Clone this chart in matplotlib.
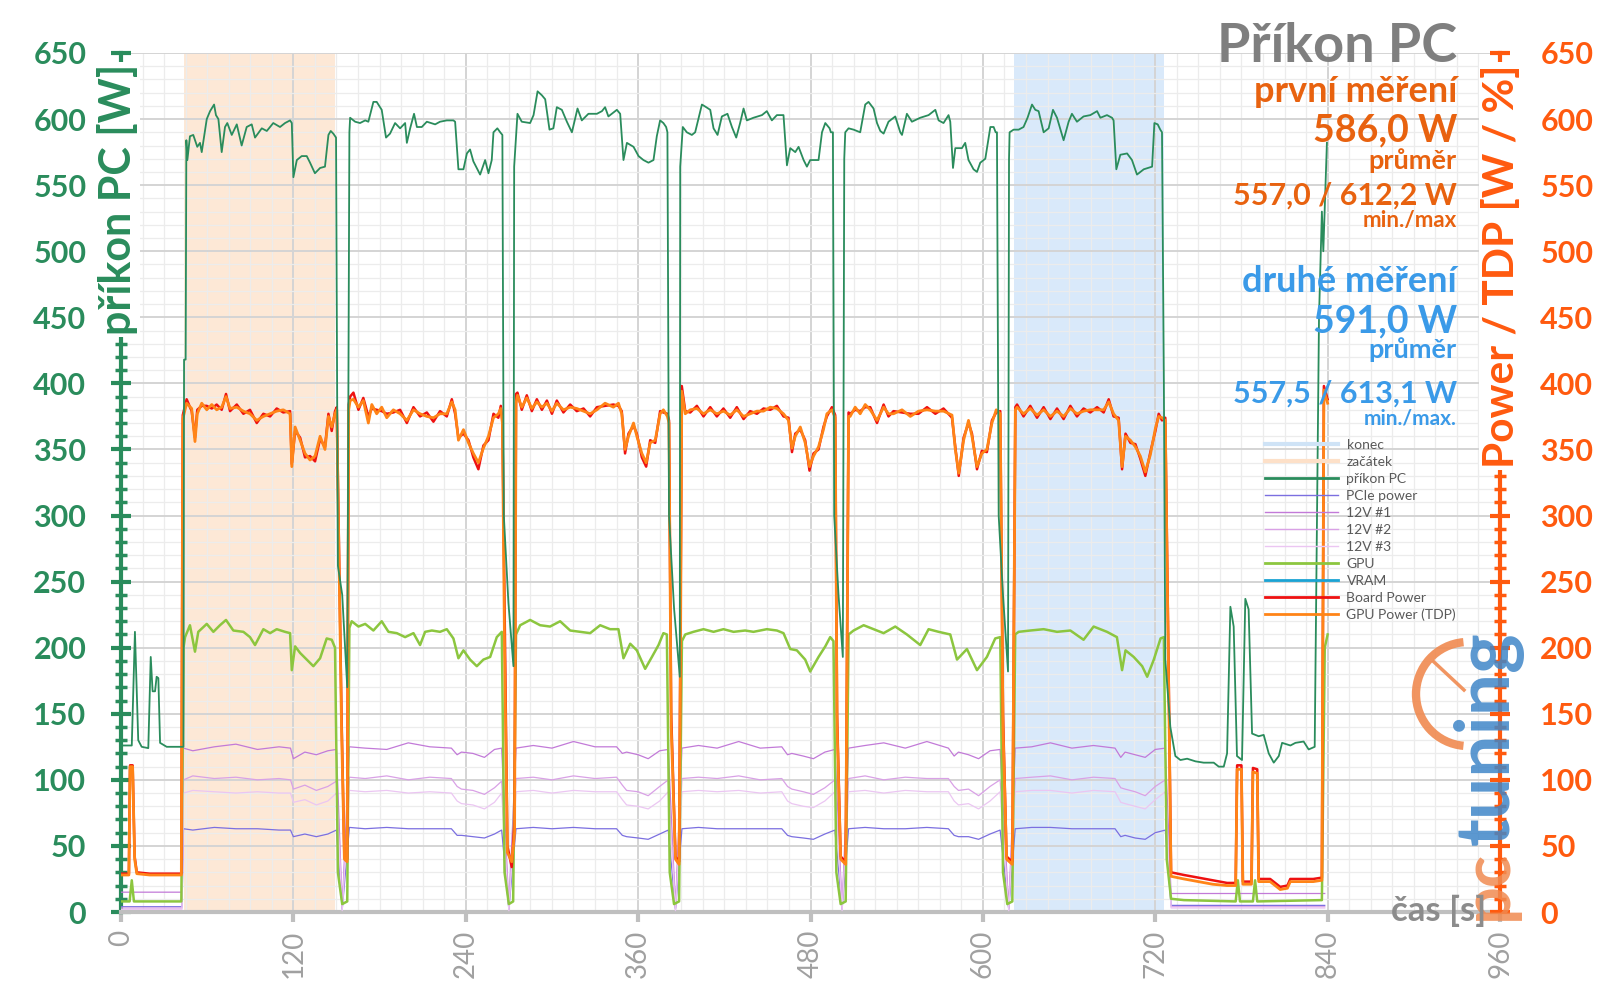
import numpy as np
import matplotlib
matplotlib.use("Agg")
import matplotlib.pyplot as plt
import matplotlib.ticker as ticker
from matplotlib.lines import Line2D
from matplotlib.patches import Arc

plt.rcParams['font.family'] = ['Lato', 'DejaVu Sans']

# ---- data ----
# příkon PC  (time s, W)
pc_power = [
    (0, 126), (7.5, 126), (9.7, 212), (12, 130), (14.4, 125), (19, 124), (20.7, 193), (22, 167),
    (23.7, 167), (24.8, 178), (26, 177), (27.2, 128), (31.8, 125), (41.1, 125), (43.5, 125),
    (43.9, 418), (45, 418), (45.5, 584),
    (46.2, 569), (48, 587), (50.3, 588), (53.1, 579), (55, 582), (56.2, 575), (59.7, 600), (62, 606),
    (64.8, 611), (66.1, 603), (67.8, 600), (70.1, 575), (72.4, 594), (74, 597), (77.1, 588), (80.6, 596),
    (84, 580), (87.5, 594), (91, 596), (93.3, 586), (98, 593), (101.5, 591), (106, 597), (110.7, 594),
    (114.2, 597), (117.7, 599), (118.9, 597), (120, 556), (122.4, 569), (125.8, 572), (129.3, 572),
    (131.6, 567), (135, 559), (138.6, 563), (142, 564), (144.4, 588), (146, 591), (147.8, 589), (149.7, 586),
    (151, 262), (154, 240), (157.5, 170), (159, 590),
    (159.5, 601), (163, 598), (166.4, 597), (170, 599), (172.2, 598), (175.7, 613), (178, 613),
    (181.5, 607), (184.5, 586), (187.3, 589), (190.8, 597), (194.3, 593), (197.8, 597), (199, 582),
    (201.3, 593), (204, 604), (206, 594), (209.4, 594), (212.9, 598), (218.7, 596), (222.1, 598),
    (226.8, 599), (231.4, 599), (232.6, 598), (234.9, 562), (238.4, 562), (240.8, 574), (243, 577),
    (245.3, 568), (250, 558), (253.5, 569), (255.8, 559), (258.1, 569), (259.3, 590), (262, 593),
    (264, 590), (265.5, 588),
    (266.5, 300), (269.7, 234), (273.2, 186), (273.7, 564),
    (276, 604), (279, 598), (284.8, 597), (287.2, 603), (290, 621), (293, 618), (295.3, 615),
    (298.3, 592), (301, 593), (303.4, 609), (306.9, 607), (310.4, 598), (313.9, 590), (317.8, 608),
    (320.8, 599), (325.4, 604), (331.3, 604), (334.8, 606), (337, 609), (339.3, 602), (345.2, 607),
    (347.5, 604), (349.8, 569), (352.2, 582), (356.8, 579), (360.3, 572), (363.7, 569), (367.2, 567),
    (370.7, 569), (373, 587), (375.3, 599), (377.6, 597), (379.5, 594),
    (380.4, 590), (381.5, 300), (385, 230), (389, 178), (389.3, 564),
    (391.1, 594), (393.9, 590), (397.4, 588), (399.7, 590), (404.4, 611), (407.4, 609), (410.2, 607),
    (412.5, 593), (415.3, 588), (418.3, 602), (422.2, 604), (425.3, 594), (428.3, 586), (431, 597),
    (433.4, 608), (435.7, 599), (440.3, 601), (446.2, 603), (449.6, 606), (453.1, 599), (456.6, 603),
    (461.2, 603), (463.6, 565), (465.9, 578), (469.4, 575), (471.7, 579), (475.2, 569), (477.5, 564),
    (479.8, 569), (485.6, 569), (488, 590), (490.3, 597), (493.3, 593), (494.2, 590),
    (495.6, 590), (496.5, 300), (499.5, 240), (502.5, 193), (503.5, 570),
    (504.2, 590), (506.5, 593), (510, 592), (514.6, 590), (518.1, 611), (520.4, 613), (523.9, 608),
    (526.3, 597), (528.6, 591), (530.9, 589), (534.3, 598), (539, 602), (542.5, 590), (543.7, 588),
    (547.1, 604), (550.6, 598), (556.4, 601), (562.2, 603), (566.9, 607), (569.2, 599), (572.6, 597),
    (576.1, 603), (577.3, 598), (579.2, 563), (580.8, 578), (585.4, 578), (587.7, 582), (590, 569),
    (593.5, 562), (595.9, 560), (598.2, 567), (601.7, 570), (605.2, 594), (607.5, 594), (608.9, 590),
    (609.8, 590), (611, 300), (614, 240), (617.5, 182), (618.2, 570),
    (618.6, 590), (621.4, 592), (624.9, 592), (628.3, 594), (631.1, 601), (634.2, 611), (636.5, 607),
    (638.8, 606), (642.3, 590), (645.8, 593), (648.8, 607), (651.6, 601), (656.2, 584), (659.7, 598),
    (662, 604), (665.5, 598), (670.1, 602), (674.8, 603), (679.5, 606), (681.8, 601), (686.4, 603),
    (689.9, 601), (691, 599), (692.9, 562), (695.7, 573), (700.4, 574), (703.8, 569), (707.3, 558),
    (712, 562), (717.8, 564), (719.4, 597), (721.7, 596), (723.5, 592), (724.7, 590),
    (726, 400), (727, 191), (730.5, 140), (734, 118), (737.5, 115), (742.2, 116), (748, 114),
    (753.7, 113), (760.7, 113), (764.2, 110), (767.7, 110), (770, 120), (772.3, 231), (774.6, 216),
    (776.9, 118), (780.4, 115), (782.7, 237), (785, 229), (787.4, 135), (792, 133), (795.5, 134),
    (799, 120), (802.5, 113), (806, 118), (808.3, 128), (814.1, 126), (817.6, 128), (823.3, 129),
    (826.8, 123), (831, 125), (834, 450), (836, 530), (837, 500), (839.5, 582),
]

# GPU Power (TDP)
gpu_tdp = [
    (0, 28), (5.5, 28), (6.3, 110), (8.1, 110), (9.5, 40), (11, 29), (20, 28), (42, 28), (43, 373),
    (45.7, 385), (49.2, 381), (51.5, 356), (53.1, 377), (56.2, 385), (59.7, 380), (63.2, 384), (66.6, 380),
    (70.1, 382), (73.1, 390), (75.9, 381), (80.6, 382), (85.2, 379), (89.8, 377), (94.5, 372), (99.1, 375),
    (103.8, 377), (108.4, 379), (113, 380), (117.7, 377), (118.9, 337), (121.2, 367), (124.7, 357),
    (128.1, 347), (131.6, 342), (135.1, 345), (138.6, 360), (142, 350), (144.4, 375), (146.7, 367),
    (149, 377), (150.2, 380),
    (152, 250), (153.5, 140), (155.5, 40), (157.4, 38), (158.5, 380),
    (159.5, 387), (161.8, 388), (165.3, 382), (168.7, 387), (172.2, 370), (174.6, 384), (178, 377),
    (181.5, 382), (185, 374), (189.6, 380), (194.3, 377), (199, 372), (203.6, 380), (208.2, 377),
    (212.9, 375), (217.5, 374), (222.1, 377), (226.8, 377), (230.3, 386), (232.6, 380), (234.9, 357),
    (238.4, 365), (241.9, 355), (245.3, 347), (248.8, 340), (252.3, 351), (255.8, 360), (259.3, 374),
    (262.7, 377), (264.4, 381), (265.5, 370),
    (267, 200), (269, 45), (272, 38), (274, 60), (275, 385),
    (276, 391), (279, 382), (282.5, 389), (286, 381), (289.5, 386), (293, 382), (296.5, 385), (300, 379),
    (303.4, 385), (308, 380), (312.7, 382), (317.3, 381), (322, 379), (326.6, 377), (331.3, 380),
    (337, 385), (342.8, 382), (346.3, 385), (348.6, 377), (350.9, 350), (353.3, 360), (356.8, 370),
    (359.1, 360), (362.6, 347), (365.6, 340), (368.4, 355), (371.9, 357), (375.3, 377), (377.6, 380),
    (380.4, 375), (381.5, 370),
    (383, 140), (386, 40), (388.5, 36), (389.5, 200), (390.4, 394),
    (392.8, 377), (396.3, 380), (400.9, 381), (405.5, 377), (410.2, 380), (414.8, 377), (419.4, 379),
    (424.1, 376), (428.7, 380), (433.4, 375), (438, 377), (442.7, 379), (447.3, 379), (452, 382),
    (456.6, 381), (461.2, 377), (464.7, 372), (467.1, 351), (469.4, 360), (472.9, 367), (476.3, 355),
    (479.3, 337), (482.1, 345), (485.6, 352), (489, 365), (491.4, 377), (494.9, 380), (497.2, 374),
    (498.5, 140), (501, 40), (504.5, 36), (506.5, 375),
    (507.6, 375), (511.1, 382), (514.6, 377), (518.1, 384), (521.6, 380), (526.3, 372), (530.9, 382),
    (534.3, 377), (537.8, 377), (543.7, 380), (549.5, 375), (555.2, 379), (561.1, 380), (566.9, 379),
    (572.6, 379), (578.5, 376), (580.8, 350), (583.2, 332), (586.6, 357), (590, 372), (592.4, 360),
    (595.9, 337), (599.3, 347), (602.8, 350), (606.3, 370), (609.3, 380), (612.1, 377),
    (614, 140), (616.5, 40), (620.5, 36), (622.6, 380),
    (623.8, 382), (628.3, 377), (633, 381), (637.7, 376), (642.3, 380), (647, 375), (651.6, 379),
    (656.2, 375), (660.9, 381), (665.5, 377), (670.1, 379), (674.8, 380), (679.5, 380), (684.1, 380),
    (687.6, 386), (691, 377), (694.5, 372), (696.9, 337), (699.3, 360), (702.7, 357), (706.2, 352),
    (709.6, 345), (713.1, 333), (716.6, 346), (720.1, 366), (722.4, 375), (724.7, 374), (727, 372),
    (729, 200), (731, 27), (740, 25), (750, 23), (760, 21), (770, 20), (776, 20), (777, 108), (780, 108),
    (781, 21), (787, 21), (788, 106), (791, 105), (792, 23), (800, 23), (807, 17), (812, 18), (814, 23),
    (830, 23), (836, 24), (837.4, 395), (840, 385),
]

# Board Power
board_power = [
    (0, 29), (5.5, 29), (6.3, 111), (8.1, 111), (9.5, 42), (11, 30), (20, 29), (42, 29), (43, 376),
    (45.7, 388), (49.2, 379), (51.5, 359), (53.1, 380), (56.2, 383), (59.7, 383), (63.2, 381), (66.6, 384),
    (70.1, 380), (73.1, 392), (75.9, 379), (80.6, 384), (85.2, 377), (89.8, 380), (94.5, 370), (99.1, 377),
    (103.8, 375), (108.4, 381), (113, 378), (117.7, 379), (118.9, 339), (121.2, 364), (124.7, 359),
    (128.1, 344), (131.6, 345), (135.1, 341), (138.6, 358), (142, 352), (144.4, 377), (146.7, 364),
    (149, 379), (150.2, 382),
    (152, 260), (153.5, 150), (155.5, 42), (157.4, 40), (158.5, 384),
    (159.5, 390), (161.8, 393), (165.3, 380), (168.7, 389), (172.2, 375), (174.6, 381), (178, 380),
    (181.5, 379), (185, 377), (189.6, 378), (194.3, 380), (199, 370), (203.6, 382), (208.2, 375),
    (212.9, 378), (217.5, 371), (222.1, 379), (226.8, 375), (230.3, 388), (232.6, 377), (234.9, 359),
    (238.4, 362), (241.9, 357), (245.3, 344), (248.8, 335), (252.3, 353), (255.8, 357), (259.3, 377),
    (262.7, 374), (264.4, 383), (265.5, 372),
    (267, 231), (269, 50), (272, 34), (274, 70), (275, 392),
    (276, 393), (279, 380), (282.5, 391), (286, 379), (289.5, 388), (293, 380), (296.5, 387), (300, 377),
    (303.4, 387), (308, 378), (312.7, 384), (317.3, 379), (322, 381), (326.6, 375), (331.3, 382),
    (337, 383), (342.8, 384), (346.3, 383), (348.6, 379), (350.9, 347), (353.3, 362), (356.8, 368),
    (359.1, 362), (362.6, 344), (365.6, 337), (368.4, 357), (371.9, 355), (375.3, 379), (377.6, 378),
    (380.4, 377), (381.5, 372),
    (383, 150), (386, 42), (388.5, 38), (389.5, 220), (390.4, 398),
    (392.8, 379), (396.3, 378), (400.9, 383), (405.5, 375), (410.2, 382), (414.8, 375), (419.4, 381),
    (424.1, 374), (428.7, 382), (433.4, 373), (438, 379), (442.7, 377), (447.3, 381), (452, 380),
    (456.6, 383), (461.2, 375), (464.7, 374), (467.1, 348), (469.4, 362), (472.9, 365), (476.3, 357),
    (479.3, 334), (482.1, 347), (485.6, 350), (489, 367), (491.4, 375), (494.9, 382), (497.2, 376),
    (498.5, 150), (501, 42), (504.5, 38), (506.5, 378),
    (507.6, 377), (511.1, 380), (514.6, 379), (518.1, 382), (521.6, 382), (526.3, 370), (530.9, 384),
    (534.3, 375), (537.8, 379), (543.7, 378), (549.5, 377), (555.2, 377), (561.1, 382), (566.9, 377),
    (572.6, 381), (578.5, 374), (580.8, 352), (583.2, 330), (586.6, 359), (590, 370), (592.4, 362),
    (595.9, 335), (599.3, 349), (602.8, 348), (606.3, 372), (609.3, 378), (612.1, 379),
    (614, 150), (616.5, 42), (620.5, 38), (622.6, 382),
    (623.8, 384), (628.3, 375), (633, 383), (637.7, 374), (642.3, 382), (647, 373), (651.6, 381),
    (656.2, 373), (660.9, 383), (665.5, 375), (670.1, 381), (674.8, 378), (679.5, 382), (684.1, 378),
    (687.6, 388), (691, 375), (694.5, 374), (696.9, 335), (699.3, 362), (702.7, 355), (706.2, 354),
    (709.6, 343), (713.1, 330), (716.6, 348), (720.1, 364), (722.4, 377), (724.7, 372), (727, 374),
    (729, 210), (731, 30), (740, 28), (750, 26), (760, 24), (770, 22), (776, 22), (777, 111), (780, 111),
    (781, 23), (787, 23), (788, 109), (791, 108), (792, 25), (800, 25), (807, 19), (812, 20), (814, 25),
    (830, 25), (836, 26), (837.4, 398), (840, 388),
]

# GPU (chip)
gpu_chip = [
    (0, 8), (6, 8), (7.5, 24), (9, 8), (42, 8), (43.5, 200),
    (44.6, 208), (48, 217), (51.5, 197), (53.8, 212), (59.7, 218), (64.3, 212), (68.9, 217), (73.1, 221),
    (78.2, 213), (85.2, 212), (89.8, 208), (93.3, 202), (99.1, 214), (103.8, 211), (108.4, 214),
    (114.2, 212), (117.7, 211), (118.9, 183), (121.2, 201), (124.7, 196), (129.3, 191), (133.9, 186),
    (138.6, 192), (143.2, 207), (146.7, 206), (149, 200),
    (151, 30), (154, 6), (157.5, 8), (159, 215),
    (160.6, 220), (165.3, 216), (170, 218), (175.7, 213), (181.5, 220), (186.2, 212), (192, 211),
    (197.8, 208), (203.6, 211), (208.2, 202), (211.7, 212), (216.4, 213), (222.1, 212), (226.8, 214),
    (231.4, 207), (234.9, 192), (238.4, 198), (243, 191), (247.7, 186), (252.3, 191), (257, 193),
    (261.6, 208), (265.1, 212),
    (267, 30), (270, 6), (273, 8), (275, 210),
    (277.9, 217), (284.8, 221), (291.8, 217), (298.7, 216), (305.7, 220), (312.7, 213), (319.6, 212),
    (326.6, 211), (333.6, 217), (340.5, 214), (346.3, 214), (349.8, 192), (354.5, 203), (359.1, 198),
    (364.9, 184), (369.6, 193), (374.2, 202), (377.6, 211), (380, 210),
    (382, 30), (385, 6), (388.5, 8), (390.5, 205),
    (392.8, 210), (398.5, 212), (405.5, 214), (412.5, 212), (419.4, 214), (426.4, 212), (434.5, 213),
    (440.3, 212), (449.6, 214), (456.6, 213), (461.2, 211), (465.9, 199), (470.5, 198), (476.3, 191),
    (479.8, 182), (485.6, 193), (490.3, 201), (493.7, 208), (496, 205),
    (498, 30), (501, 6), (504.5, 8), (506.5, 210),
    (510, 213), (517, 217), (524, 214), (530.9, 211), (539, 216), (547.1, 210), (556.4, 202),
    (562.2, 214), (569.2, 212), (577.3, 210), (582, 191), (588.9, 199), (595.9, 183), (602.8, 193),
    (608.6, 207), (612.1, 208),
    (614, 30), (617, 6), (620.5, 8), (622.5, 210),
    (624.9, 212), (633, 213), (642.3, 214), (651.6, 212), (660.9, 213), (670.1, 206), (677.1, 216),
    (686.4, 212), (693.3, 208), (696.9, 183), (699.3, 198), (705, 193), (710.9, 186), (714.4, 178),
    (719, 191), (723.7, 207), (726, 208),
    (728, 40), (731, 10), (740, 9), (776, 8), (777.5, 24), (779, 8), (788, 8), (789.5, 24), (791, 8),
    (836, 9), (838, 200), (840, 210),
]

# rails: shared time knots
t_rails = [0, 42.5,
           43.5, 50, 65, 80, 95, 110, 118, 120, 128, 136, 144, 150, 154,
           159, 170, 185, 200, 215, 230, 234, 237, 245, 253, 260, 265, 270,
           275, 287, 300, 315, 330, 345, 349, 352, 360, 367, 375, 381, 386,
           390.5, 402, 415, 430, 445, 460, 464, 467, 475, 482, 490, 497, 502,
           506.5, 518, 531, 546, 561, 576, 580, 583, 590, 597, 605, 612, 618,
           622.5, 634, 647, 662, 677, 692, 696, 699, 706, 713, 720, 727,
           731, 836, 838]
v_12v_1 = [15, 15,
           124, 122, 125, 127, 123, 125, 124, 116, 121, 119, 122, 123, 3,
           125, 124, 123, 128, 125, 124, 119, 121, 120, 117, 123, 124, 3,
           124, 126, 124, 129, 125, 125, 120, 121, 119, 116, 122, 123, 3,
           124, 126, 124, 129, 124, 125, 119, 120, 118, 116, 121, 123, 3,
           124, 126, 128, 124, 129, 124, 118, 121, 119, 116, 122, 123, 3,
           124, 125, 128, 124, 126, 124, 117, 121, 119, 117, 123, 124,
           14, 14, 14]
v_12v_2 = [3, 3,
           100, 103, 101, 102, 100, 101, 100, 93, 96, 92, 95, 99, 2,
           102, 101, 103, 100, 102, 101, 95, 93, 92, 89, 94, 99, 2,
           101, 102, 100, 103, 101, 102, 96, 92, 91, 88, 95, 100, 2,
           101, 102, 101, 103, 100, 101, 95, 93, 91, 89, 94, 100, 2,
           101, 103, 100, 102, 101, 101, 95, 92, 93, 88, 95, 100, 2,
           101, 102, 103, 100, 102, 101, 94, 93, 91, 88, 95, 100,
           4, 4, 4]
v_12v_3 = [2, 2,
           90, 92, 91, 90, 91, 90, 90, 83, 85, 81, 84, 90, 1,
           92, 91, 92, 90, 91, 90, 84, 82, 81, 78, 83, 90, 1,
           91, 92, 90, 92, 91, 91, 85, 81, 80, 78, 84, 91, 1,
           91, 92, 91, 92, 90, 91, 84, 82, 80, 79, 84, 91, 1,
           91, 92, 90, 92, 91, 91, 84, 81, 82, 78, 84, 91, 1,
           91, 92, 92, 90, 92, 91, 83, 82, 80, 78, 85, 91,
           3, 3, 3]
v_pcie = [4, 4,
          63, 62, 64, 63, 63, 62, 62, 57, 59, 57, 59, 62, 2,
          64, 63, 64, 63, 63, 63, 58, 58, 57, 56, 59, 62, 2,
          63, 64, 63, 64, 63, 63, 58, 57, 56, 55, 59, 62, 2,
          63, 64, 63, 63, 63, 63, 58, 57, 56, 55, 59, 62, 2,
          63, 64, 63, 63, 64, 63, 58, 57, 57, 55, 59, 62, 2,
          63, 64, 64, 63, 63, 63, 57, 58, 56, 55, 60, 62,
          5, 5, 5]

start_span = (43.6, 148.8)   # začátek
end_span = (621.9, 725.8)    # konec

x_ticks = [0, 120, 240, 360, 480, 600, 720, 840, 960]
y_ticks = list(range(0, 651, 50))

# ---- colours ----
c_green = '#2a8c5c'
c_right = '#ff5a0f'
c_orange_txt = '#e8620f'
c_blue_txt = '#3a9ae8'
c_grey = '#8c8c8c'

fig = plt.figure(figsize=(16, 10.08), dpi=100)
ax = fig.add_axes([121/1600, 96/1008, 1379/1600, 859/1008])

ax.axvspan(*start_span, color='#fde8d6', lw=0, zorder=0)
ax.axvspan(*end_span, color='#d9e9fa', lw=0, zorder=0)

ax.plot(t_rails, v_pcie, color='#7b6fe0', lw=0.9, zorder=3)
ax.plot(t_rails, v_12v_1, color='#c27ad8', lw=0.9, zorder=3)
ax.plot(t_rails, v_12v_2, color='#d9a1e6', lw=0.9, zorder=3)
ax.plot(t_rails, v_12v_3, color='#ebc6f2', lw=0.9, zorder=3)

g = np.array(gpu_chip)
ax.plot(g[:, 0], g[:, 1], color='#8cc63f', lw=1.8, zorder=4)
ax.plot([], [], color='#1aa3d4', lw=2)  # VRAM (not visible in chart)
b = np.array(board_power)
ax.plot(b[:, 0], b[:, 1], color='#ee1111', lw=1.8, zorder=5)
o = np.array(gpu_tdp)
ax.plot(o[:, 0], o[:, 1], color='#ff8417', lw=2.0, zorder=6)
p = np.array(pc_power)
ax.plot(p[:, 0], p[:, 1], color=c_green, lw=1.3, zorder=7)

ax.set_xlim(0, 960)
ax.set_ylim(0, 650)
ax.xaxis.set_major_locator(ticker.FixedLocator(x_ticks))
ax.xaxis.set_minor_locator(ticker.MultipleLocator(15))
ax.yaxis.set_major_locator(ticker.FixedLocator(y_ticks))
ax.yaxis.set_minor_locator(ticker.MultipleLocator(10))
ax.grid(which='major', color='#d4d4d4', lw=1.4, zorder=1)
ax.grid(which='minor', color='#ececec', lw=0.9, zorder=1)
ax.set_axisbelow(True)

for s in ['top', 'right']:
    ax.spines[s].set_visible(False)
ax.spines['left'].set_color(c_green)
ax.spines['left'].set_linewidth(3)
ax.spines['bottom'].set_color('#bfbfbf')
ax.spines['bottom'].set_linewidth(3)

ax.tick_params(axis='y', which='major', direction='inout', length=14, width=3, colors=c_green,
               labelsize=22, pad=18)
ax.tick_params(axis='y', which='minor', direction='inout', length=8, width=2.5, colors=c_green)
for lab in ax.get_yticklabels():
    lab.set_fontweight('bold')
ax.tick_params(axis='x', which='major', direction='out', length=7, width=3, colors='#bfbfbf',
               labelsize=20, labelcolor='#a0a0a0', labelrotation=90, pad=6)
ax.tick_params(axis='x', which='minor', length=0)

ax2 = ax.twinx()
ax2.set_ylim(0, 650)
ax2.yaxis.set_major_locator(ticker.FixedLocator(y_ticks))
ax2.yaxis.set_minor_locator(ticker.MultipleLocator(10))
for s in ['top', 'left', 'bottom']:
    ax2.spines[s].set_visible(False)
ax2.spines['right'].set_color(c_right)
ax2.spines['right'].set_linewidth(3)
ax2.tick_params(axis='y', which='major', direction='inout', length=14, width=3, colors=c_right,
                labelsize=22, pad=22)
ax2.tick_params(axis='y', which='minor', direction='inout', length=8, width=2.5, colors=c_right)
for lab in ax2.get_yticklabels():
    lab.set_fontweight('bold')

# axis titles (sit over the spines, like in the original)
box = dict(facecolor='white', edgecolor='none', pad=1.5)
fig.text(117/1600, 1 - 64/1008, 'příkon PC [W]', rotation=90, ha='center', va='top',
         color=c_green, fontsize=31, fontweight='bold', bbox=box, zorder=5)
fig.text(1501/1600, 1 - 64/1008, 'Power / TDP [W / %]', rotation=90, ha='center', va='top',
         color=c_right, fontsize=30.5, fontweight='bold', bbox=box, zorder=5)
fig.text(1486/1600, 1 - 911/1008, 'čas [s]', ha='right', va='center', color=c_grey,
         fontsize=25, fontweight='bold', zorder=6)

# title + annotations
xr = 1457/1600
fig.text(xr, 1 - 46/1008, 'Příkon PC', ha='right', va='center', color='#7f7f7f',
         fontsize=39, fontweight='bold')
notes = [
    ('první měření', 92, 26, c_orange_txt),
    ('586,0 W', 130, 27, c_orange_txt),
    ('průměr', 161, 19.5, c_orange_txt),
    ('557,0 / 612,2 W', 196, 22, c_orange_txt),
    ('min./max', 221, 16, c_orange_txt),
    ('druhé měření', 281, 26, c_blue_txt),
    ('591,0 W', 321, 27, c_blue_txt),
    ('průměr', 350, 19.5, c_blue_txt),
    ('557,5 / 613,1 W', 394, 22, c_blue_txt),
    ('min./max.', 418, 15, c_blue_txt),
]
for txt, yp, fs, col in notes:
    fig.text(xr, 1 - yp/1008, txt, ha='right', va='center', color=col, fontsize=fs, fontweight='bold')

# legend
handles = [
    Line2D([], [], color='#cfe3f6', lw=3, label='konec'),
    Line2D([], [], color='#fde0c8', lw=3, label='začátek'),
    Line2D([], [], color=c_green, lw=2, label='příkon PC'),
    Line2D([], [], color='#7b6fe0', lw=1, label='PCIe power'),
    Line2D([], [], color='#c27ad8', lw=1, label='12V #1'),
    Line2D([], [], color='#d9a1e6', lw=1, label='12V #2'),
    Line2D([], [], color='#ebc6f2', lw=1, label='12V #3'),
    Line2D([], [], color='#8cc63f', lw=2, label='GPU'),
    Line2D([], [], color='#1aa3d4', lw=2, label='VRAM'),
    Line2D([], [], color='#ee1111', lw=2, label='Board Power'),
    Line2D([], [], color='#ff8417', lw=2, label='GPU Power (TDP)'),
]
leg = fig.legend(handles=handles, loc='upper left', bbox_to_anchor=(1259/1600, 1 - 433/1008),
                 frameon=False, fontsize=10, handlelength=5.3, labelspacing=0.36,
                 handletextpad=0.6, borderaxespad=0)
for t in leg.get_texts():
    t.set_color('#595959')

# watermark logo
lax = fig.add_axes([0, 0, 1, 1], facecolor='none')
lax.set_xlim(0, 1600)
lax.set_ylim(1008, 0)
lax.axis('off')
lax.text(1488, 920, 'pc', rotation=90, ha='center', va='bottom', color='#f08a50',
         fontsize=48, fontweight='bold', alpha=0.85)
lax.text(1488, 845, 'tuning', rotation=90, ha='center', va='bottom', color='#3f86c8',
         fontsize=54, fontweight='bold', alpha=0.85)
lax.add_patch(Arc((1468, 694), 104, 104, theta1=95, theta2=265, color='#f08a50', lw=6, alpha=0.9))
lax.plot([1434, 1464], [662, 690], color='#f08a50', lw=2.5, alpha=0.9)

fig.savefig('out.png', dpi=100)
